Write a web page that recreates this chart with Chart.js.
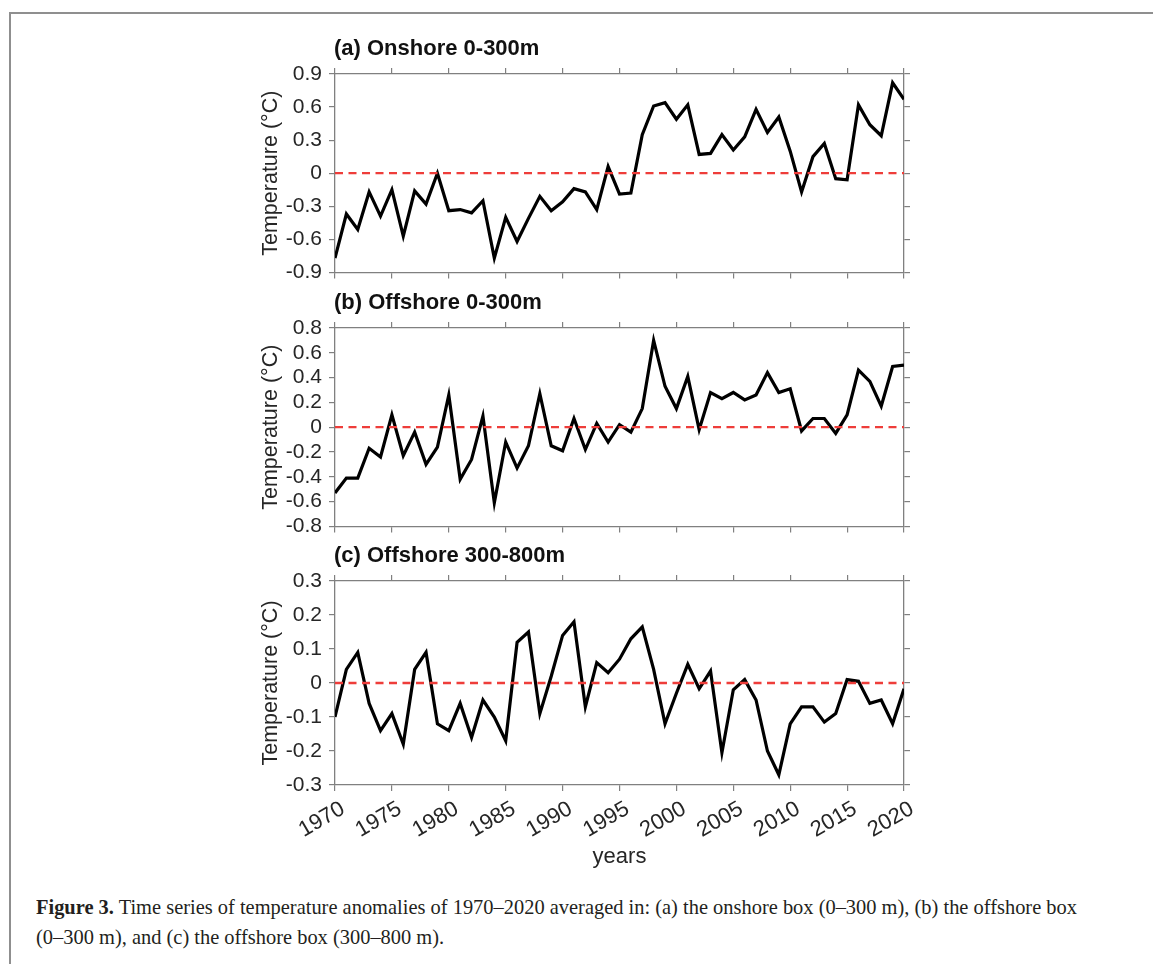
<!DOCTYPE html>
<html>
<head>
<meta charset="utf-8">
<script src="https://cdn.jsdelivr.net/npm/chart.js@4.4.1/dist/chart.umd.min.js"></script>
<style>
  html, body { margin: 0; padding: 0; background: #fff; }
  body { width: 1153px; height: 964px; position: relative; overflow: hidden; font-family: "Liberation Sans", Arial, sans-serif; }
  .frame { position: absolute; left: 9px; top: 12px; width: 1160px; height: 980px; border-top: 2px solid #8f8f8f; border-left: 2px solid #8f8f8f; }
  .panel { position: absolute; left: 230px; }
  .caption { position: absolute; left: 36px; top: 892px; font-family: "Liberation Serif", "Times New Roman", serif; font-size: 22px; line-height: 30px; color: #231f20; white-space: nowrap; transform-origin: 0 0; }
</style>
</head>
<body>
<div class="frame"></div>
<canvas class="panel" id="panelA" width="720" height="258" style="top:34px"></canvas>
<canvas class="panel" id="panelB" width="720" height="258" style="top:288px"></canvas>
<canvas class="panel" id="panelC" width="720" height="334" style="top:541px"></canvas>
<div class="caption" id="caption"><span id="capLine1"><b>Figure 3.</b> Time series of temperature anomalies of 1970–2020 averaged in: (a) the onshore box (0–300 m), (b) the offshore box</span><br>(0–300 m), and (c) the offshore box (300–800 m).</div>
<script>
// Annual temperature anomalies (°C), 1970–2020
const years = [1970, 1971, 1972, 1973, 1974, 1975, 1976, 1977, 1978, 1979,
               1980, 1981, 1982, 1983, 1984, 1985, 1986, 1987, 1988, 1989,
               1990, 1991, 1992, 1993, 1994, 1995, 1996, 1997, 1998, 1999,
               2000, 2001, 2002, 2003, 2004, 2005, 2006, 2007, 2008, 2009,
               2010, 2011, 2012, 2013, 2014, 2015, 2016, 2017, 2018, 2019, 2020];

const onshore0to300 = [-0.77, -0.37, -0.51, -0.17, -0.39, -0.15, -0.57, -0.16, -0.28, 0.00,
                       -0.34, -0.33, -0.36, -0.25, -0.77, -0.40, -0.62, -0.41, -0.21, -0.34,
                       -0.26, -0.14, -0.17, -0.33, 0.06, -0.19, -0.18, 0.35, 0.61, 0.64,
                       0.49, 0.62, 0.17, 0.18, 0.35, 0.21, 0.33, 0.58, 0.37, 0.51,
                       0.20, -0.17, 0.15, 0.27, -0.05, -0.06, 0.62, 0.44, 0.34, 0.82, 0.67];

const offshore0to300 = [-0.53, -0.41, -0.41, -0.17, -0.24, 0.10, -0.23, -0.04, -0.30, -0.16,
                        0.26, -0.42, -0.26, 0.09, -0.61, -0.12, -0.33, -0.15, 0.27, -0.15,
                        -0.19, 0.07, -0.18, 0.03, -0.12, 0.02, -0.04, 0.15, 0.70, 0.33,
                        0.15, 0.41, -0.02, 0.28, 0.23, 0.28, 0.22, 0.26, 0.44, 0.28,
                        0.31, -0.03, 0.07, 0.07, -0.05, 0.10, 0.46, 0.37, 0.17, 0.49, 0.50];

const offshore300to800 = [-0.10, 0.04, 0.09, -0.06, -0.14, -0.09, -0.18, 0.04, 0.09, -0.12,
                          -0.14, -0.06, -0.16, -0.05, -0.10, -0.17, 0.12, 0.15, -0.09, 0.02,
                          0.14, 0.18, -0.07, 0.06, 0.03, 0.07, 0.13, 0.165, 0.04, -0.12,
                          -0.03, 0.055, -0.017, 0.035, -0.205, -0.02, 0.01, -0.05, -0.20, -0.27,
                          -0.12, -0.07, -0.07, -0.115, -0.09, 0.01, 0.005, -0.06, -0.05, -0.12, -0.017];

// Axis ticks and their labels
const yearTicks = [1970, 1975, 1980, 1985, 1990, 1995, 2000, 2005, 2010, 2015, 2020];
const yearTickLabels = ['1970', '1975', '1980', '1985', '1990', '1995', '2000', '2005', '2010', '2015', '2020'];
const ticksA = [-0.9, -0.6, -0.3, 0, 0.3, 0.6, 0.9];
const tickLabelsA = ['-0.9', '-0.6', '-0.3', '0', '0.3', '0.6', '0.9'];
const ticksB = [-0.8, -0.6, -0.4, -0.2, 0, 0.2, 0.4, 0.6, 0.8];
const tickLabelsB = ['-0.8', '-0.6', '-0.4', '-0.2', '0', '0.2', '0.4', '0.6', '0.8'];
const ticksC = [-0.3, -0.2, -0.1, 0, 0.1, 0.2, 0.3];
const tickLabelsC = ['-0.3', '-0.2', '-0.1', '0', '0.1', '0.2', '0.3'];

const panelTitles = ['(a) Onshore 0-300m', '(b) Offshore 0-300m', '(c) Offshore 300-800m'];
const yAxisTitle = 'Temperature (°C)';
const xAxisTitle = 'years';

Chart.defaults.font.family = '"Liberation Sans", Arial, Helvetica, sans-serif';

// Bold panel heading drawn flush with the left edge of the plot box
const panelTitlePlugin = {
  id: 'panelTitle',
  afterDraw(chart, args, opts) {
    const { ctx, chartArea } = chart;
    ctx.save();
    ctx.font = 'bold 22px "Liberation Sans", Arial, sans-serif';
    ctx.fillStyle = '#111';
    ctx.textAlign = 'left';
    ctx.textBaseline = 'middle';
    ctx.fillText(opts.text, chartArea.left - 1, chartArea.top - 25);
    ctx.restore();
  }
};

const axisColor = '#808080';
const textColor = '#262626';
const fixWidth = w => scale => { scale.width = w; };
const fixHeight = h => scale => { scale.height = h; };
const useTicks = values => scale => { scale.ticks = values.map(v => ({ value: v })); };

function makePanel(id, title, series, yTicks, yLabels, showYears, bottomHeight) {
  const points = years.map((yr, i) => ({ x: yr, y: series[i] }));
  const zeroLine = [{ x: years[0], y: 0 }, { x: years[years.length - 1], y: 0 }];
  const grid = { display: true, drawOnChartArea: false, drawTicks: true, tickLength: 6, color: axisColor, lineWidth: 1.2 };
  const border = { display: true, color: axisColor, width: 1.3 };
  const yMin = yTicks[0], yMax = yTicks[yTicks.length - 1];

  return new Chart(document.getElementById(id), {
    type: 'line',
    data: {
      datasets: [
        { data: points, xAxisID: 'x', yAxisID: 'y', borderColor: '#000', borderWidth: 3.2, pointRadius: 0, tension: 0, order: 2 },
        { data: zeroLine, xAxisID: 'x', yAxisID: 'y', borderColor: '#ee3d3a', borderWidth: 2.3, borderDash: [8, 5.5], pointRadius: 0, order: 1 }
      ]
    },
    options: {
      responsive: false,
      animation: false,
      devicePixelRatio: 1,
      layout: { padding: 0 },
      plugins: { legend: { display: false }, tooltip: { enabled: false }, panelTitle: { text: title } },
      scales: {
        x: {
          type: 'linear', position: 'bottom', min: years[0], max: years[years.length - 1],
          afterBuildTicks: useTicks(yearTicks), afterFit: fixHeight(bottomHeight),
          grid, border,
          ticks: { display: showYears, autoSkip: false, minRotation: 30, maxRotation: 30, padding: 5, labelOffset: 8,
                   color: textColor, font: { size: 22 }, callback: (v, i) => yearTickLabels[i] },
          title: { display: showYears, text: xAxisTitle, color: textColor, font: { size: 22 }, padding: { top: 0, bottom: 5 } }
        },
        x2: {
          type: 'linear', position: 'top', min: years[0], max: years[years.length - 1],
          afterBuildTicks: useTicks(yearTicks), afterFit: fixHeight(40),
          grid, border, ticks: { display: false }
        },
        y: {
          type: 'linear', position: 'left', min: yMin, max: yMax,
          afterBuildTicks: useTicks(yTicks), afterFit: fixWidth(105),
          grid, border,
          ticks: { autoSkip: false, color: textColor, font: { size: 21 }, padding: 7, callback: (v, i) => yLabels[i] },
          title: { display: true, text: yAxisTitle, color: textColor, font: { size: 21.5 }, padding: { top: 28, bottom: 0 } }
        },
        y2: {
          type: 'linear', position: 'right', min: yMin, max: yMax,
          afterBuildTicks: useTicks(yTicks), afterFit: fixWidth(46),
          grid, border, ticks: { display: false, autoSkip: false }
        }
      }
    },
    plugins: [panelTitlePlugin]
  });
}

makePanel('panelA', panelTitles[0], onshore0to300, ticksA, tickLabelsA, false, 14);
makePanel('panelB', panelTitles[1], offshore0to300, ticksB, tickLabelsB, false, 14);
makePanel('panelC', panelTitles[2], offshore300to800, ticksC, tickLabelsC, true, 90);

// Caption: fit the first line to the text column width
const cap = document.getElementById('caption');
const line1 = document.getElementById('capLine1');
const w = line1.getBoundingClientRect().width;
cap.style.transform = 'scaleX(' + (1041 / w) + ')';
</script>
</body>
</html>
